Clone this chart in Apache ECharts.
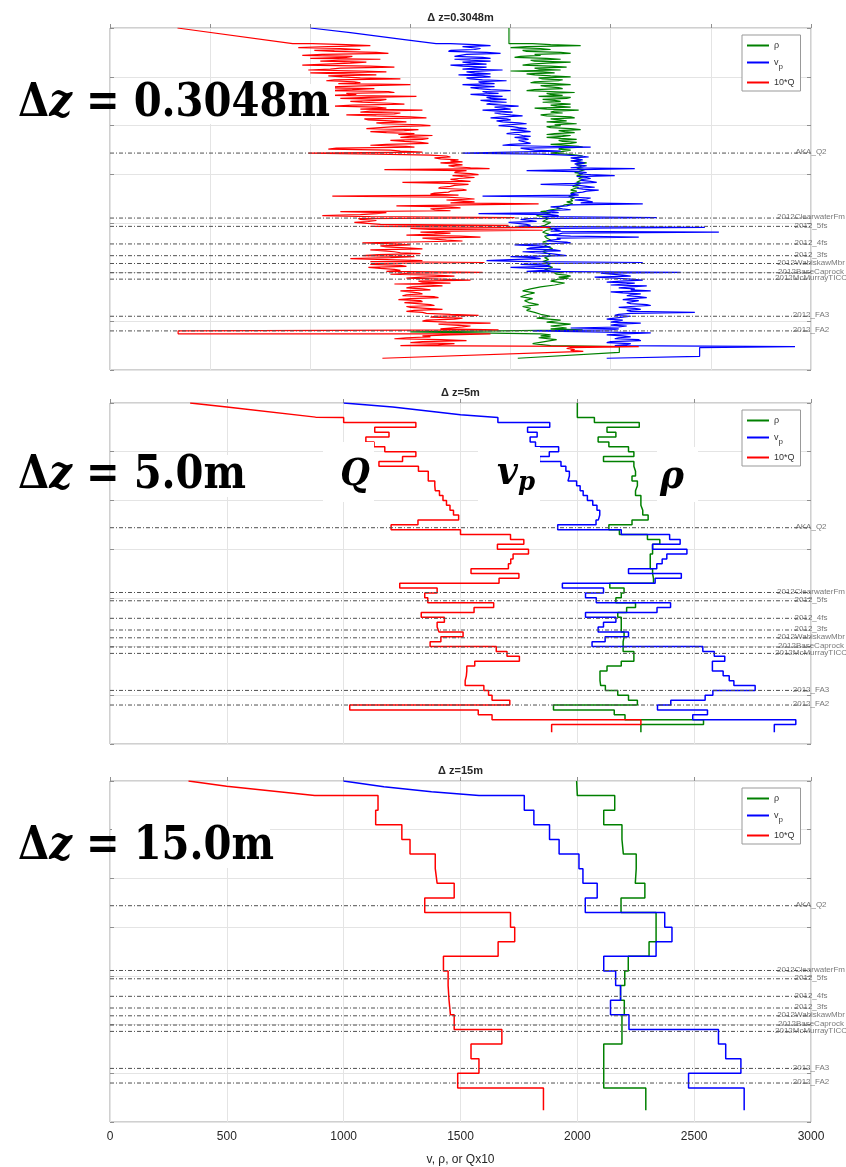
<!DOCTYPE html>
<html><head><meta charset="utf-8">
<script src="https://cdn.jsdelivr.net/npm/echarts@6/dist/echarts.min.js"></script>
<style>html,body{margin:0;padding:0;background:#fff}#c{width:846px;height:1167px}</style>
</head><body><div id="c"></div>
<script>
// ---------- data ----------
const xTickLabels = [0, 500, 1000, 1500, 2000, 2500, 3000];
const depthMin = 0, depthMax = 350, depthInterval = 50;
const panelTitles = ['\u0394 z=0.3048m', '\u0394 z=5m', '\u0394 z=15m'];
const panelXMax = [3500, 3000, 3000];
const formationNames = ['AKA_Q2','2012ClearwaterFm','2012_5fs','2012_4fs','2012_3fs','2012WabiskawMbr','2012BaseCaprock','2012McMurrayTICC','2012_FA3','2012_FA2'];
const formationDepths = [128, 194.5, 203, 221, 233, 241, 250.5, 257, 295, 310];
const logEnd = 338;

// panel 1 : dz = 0.3048 m (read at 1 m blocks from 16 m)
const p1Start = 16, p1Step = 1;
const rhoHead1 = [[1992, 0], [1992, 16]];
const vpHead1 = [[1000, 0], [1200, 4.8], [1460, 11.6], [1628, 16]];
const qHead1 = [[337, 0], [912, 16]];
const rho1 = [
 2110,2200,2350,2080,2000,2150,2200,2060,2080,2250,2300,2120,2150,2050,2020,2180,2250,2100,2120,2300,
 2180,2100,2060,2200,2280,2120,2140,2250,2000,2160,2220,2080,2120,2200,2300,2140,2160,2260,2240,2120,
 2100,2220,2300,2150,2180,2240,2260,2120,2080,2200,2320,2180,2200,2260,2140,2300,2280,2160,2220,2250,
 2160,2240,2300,2200,2230,2300,2120,2180,2340,2220,2200,2260,2260,2150,2180,2300,2320,2200,2240,2280,
 2180,2260,2330,2220,2250,2180,2200,2300,2350,2240,2270,2320,2220,2180,2300,2260,2180,2250,2330,2240,
 2260,2330,2300,2200,2200,2340,2360,2250,2240,2300,2300,2240,2200,2280,2330,2360,2360,2320,2320,2350,
 2350,2330,2380,2340,2330,2360,2360,2330,2340,2370,2370,2340,2320,2360,2350,2330,2380,2350,2340,2360,
 2360,2340,2330,2350,2350,2320,2310,2340,2340,2310,2300,2330,2330,2300,2310,2320,2290,2310,2320,2300,
 2300,2310,2280,2300,2310,2270,2260,2240,2230,2250,2200,2180,2150,2200,2180,2140,2130,2170,2170,2190,
 2190,2170,2160,2200,2200,2180,2170,2150,2150,2200,2210,2180,2180,2160,2160,2190,2200,2170,2170,2180,
 2180,2200,2200,2160,2160,2190,2190,2170,2170,2200,2210,2180,2180,2160,2160,2190,2190,2200,2200,2170,
 2170,2190,2190,2160,2160,2200,2200,2180,2180,2210,2210,2170,2170,2200,2260,2220,2230,2280,2300,2240,
 2290,2240,2240,2200,2200,2270,2270,2220,2220,2150,2150,2100,2100,2060,2060,2120,2120,2080,2080,2050,
 2050,2110,2110,2070,2070,2090,2090,2140,2140,2060,2060,2100,2100,2080,2080,2120,2120,2150,2150,2200,
 2200,2130,2130,2250,2250,2180,2180,2300,2300,2200,2200,2280,2200,2360,1940,1500,1500,2150,2200,2150,
 2200,2140,2140,2230,2230,2170,2170,2110,2110,2200,2543,2543,2543,2543,2543,2543];
const vp1 = [
 1700,1820,1900,1760,1760,1850,1820,1700,1690,1880,1950,1780,1780,1720,1860,1900,1720,1800,1900,1760,
 1800,1880,1700,1760,1880,1820,1760,1960,1960,1780,1820,1900,1740,1860,1900,1780,1800,1860,1980,1840,
 1850,1920,1760,1840,1920,1800,1840,1900,2000,1860,1880,1940,1800,1870,1960,1880,1900,1980,1850,1900,
 1980,1900,1880,1960,2040,1920,1920,2000,1860,1940,2010,1920,1950,2000,2060,1960,1900,1980,2000,1930,
 1960,2040,2080,1990,1940,2010,2040,2080,2000,2060,2100,2020,1980,2040,2060,2100,2020,2070,2090,2040,
 2040,2080,2100,2000,1960,2160,2400,2050,2080,2120,2250,2000,1760,2150,2280,2350,2390,2300,2330,2360,
 2300,2340,2370,2320,2330,2380,2360,2300,2620,2350,2080,2330,2380,2340,2400,2520,2330,2380,2400,2360,
 2350,2400,2430,2320,2150,2340,2380,2420,2330,2360,2440,2380,2360,2320,2300,2340,1860,2300,2400,2380,
 2320,2380,2410,2350,2660,2300,2280,2200,2200,2260,2300,2180,2180,2240,1840,2200,2240,2160,2730,2080,
 2050,2100,2130,1990,1990,2080,2100,2040,2970,2200,2220,2250,2200,3040,2260,2240,2180,2300,2640,2230,
 2250,2200,2180,2280,2300,2160,2020,2140,2200,2100,2080,2220,2250,2060,2120,2200,2200,2280,2000,2120,
 2150,2000,1880,2100,2660,2200,2050,2180,2200,2000,2120,2250,2250,2080,2850,2450,2450,2560,2600,2420,
 2520,2600,2660,2550,2480,2620,2580,2500,2680,2600,2540,2620,2600,2700,2500,2560,2650,2600,2580,2640,
 2680,2600,2560,2640,2640,2580,2600,2680,2700,2600,2540,2620,2650,2580,2600,2920,2600,2540,2520,2600,
 2600,2520,2480,2560,2560,2500,2650,2540,2500,2580,2540,2300,2540,2500,2110,2400,2700,2560,2480,2560,
 2600,2540,2520,2640,2650,2500,2480,2600,2580,2520,3420,2944,2944,2944,2944,2944,2944,2944,2944,2944,2944,2944];
const q1 = [
 1010,1180,1300,1090,940,1150,1250,1020,1120,1330,1390,1060,960,1210,1180,1000,1350,1140,1050,1280,
 1200,1080,960,1300,1420,1150,1100,990,1260,1380,1000,1170,1330,1090,1160,1250,1450,1120,1080,1220,
 1250,1140,1500,1300,1140,1020,1320,1210,1080,1390,1420,1180,1230,1100,1530,1290,1150,1380,1350,1200,
 1260,1400,1470,1210,1120,1330,1380,1250,1560,1300,1250,1450,1420,1180,1330,1500,1580,1270,1290,1400,
 1480,1330,1360,1550,1600,1420,1420,1280,1540,1470,1300,1380,1520,1440,1610,1500,1450,1590,1560,1400,
 1470,1550,1590,1380,1300,1480,1520,1130,1090,1400,1450,1560,990,1330,1600,1680,1700,1620,1650,1740,
 1700,1760,1650,1720,1760,1690,1720,1800,1895,1370,1780,1730,1720,1800,1840,1710,1760,1820,1740,1700,
 1740,1800,1460,1690,1790,1720,1700,1650,1640,1760,1780,1700,1690,1620,1600,1740,1110,1680,1760,1820,
 1680,1750,1820,1700,2140,1780,1430,1690,1750,1600,1620,1700,1150,1380,1330,1250,1060,1300,2020,1240,
 1250,1330,1290,1220,1220,1350,1990,1300,2200,1500,1600,2160,1700,1550,1700,1620,1480,1750,1850,1560,
 1560,1680,1760,1500,1260,1420,1500,1350,1380,1480,1560,1300,1300,1420,1450,1550,1340,1260,1520,1400,
 1200,1380,1560,1300,1870,1330,1300,1450,1480,1290,1350,1420,1450,1380,1860,1500,1400,1620,1720,1560,
 1480,1650,1800,1540,1560,1700,1420,1600,1660,1510,1480,1560,1600,1450,1450,1540,1560,1480,1460,1620,
 1640,1500,1440,1550,1560,1470,1470,1600,1620,1480,1500,1580,1660,1520,1480,1560,1580,1700,1840,1620,
 1600,1760,1720,1580,1560,1680,1900,1640,1640,1800,1760,1700,1650,1940,340,340,340,1900,1700,1560,
 1600,1480,1420,1650,1780,1560,1500,1720,1640,1450,2640,2300,2280,2320,2300,2363];
const rhoTail1 = [[2036, 338]];
const vpTail1 = [[2480, 338]];
const qTail1 = [[1360, 338]];

// panel 2 : dz = 5 m
const p2Start = 15, p2Step = 5;
const rhoHead2 = [[2000, 0], [2000, 15]];
const vpHead2 = [[1000, 0], [1210, 4], [1500, 12], [1660, 15]];
const qHead2 = [[343, 0], [500, 4], [880, 14.5]];
const rho2 = [2073,2265,2127,2165,2089,2135,2219,2242,2112,2242,
 2249,2249,2234,2257,2249,2249,2272,2272,2280,2280,
 2303,2234,2135,2180,2300,2353,2322,2322,2312,2312,
 2312,2322,2326,2326,2139,2200,2188,2165,2249,2211,
 2173,2188,2188,2188,2200,2196,2196,2196,2242,2242,
 2188,2127,2097,2097,2100,2120,2173,2219,2257,1898,
 2158,2204,2540,2272];
const vp2 = [1660,1882,1787,1828,1798,1821,1920,1880,1838,1930,
 1951,1966,1960,1997,2012,2025,2043,2066,2084,2096,
 2090,2080,1916,2188,2395,2440,2322,2469,2383,2363,
 2340,2219,2445,2333,1936,2112,2035,2081,2399,2341,
 2035,2165,2112,2089,2219,2119,2063,2537,2586,2631,
 2578,2578,2624,2650,2670,2761,2580,2547,2400,2343,
 2557,2494,2935,2843];
const q2 = [1000,1309,1133,1194,1095,1130,1176,1309,1252,1151,
 1320,1362,1362,1390,1392,1410,1425,1440,1455,1470,
 1492,1318,1203,1500,1714,1771,1658,1791,1725,1715,
 1705,1545,1750,1665,1240,1400,1347,1360,1642,1558,
 1332,1431,1400,1408,1511,1416,1370,1653,1699,1752,
 1561,1527,1525,1520,1520,1600,1620,1635,1711,1026,
 1576,1635,2272,1890];

// panel 3 : dz = 15 m
const p3Start = 15, p3Step = 15;
const rhoHead3 = [[1997, 0], [2000, 15]];
const vpHead3 = [[999, 0], [1172, 6], [1376, 11], [1579, 15]];
const qHead3 = [[336, 0], [499, 5.5], [876, 15]];
const rho3 = [2160,2113,2191,2197,2252,2248,2289,2187,2337,2337,2307,2218,2203,2185,2201,2191,2191,2113,2113,2113,2293];
const vp3 = [1773,1814,1881,1922,2007,2024,2085,2034,2374,2405,2337,2113,2164,2185,2142,2221,2604,2635,2700,2476,2714];
const q3 = [1147,1137,1249,1284,1392,1400,1473,1347,1714,1732,1661,1427,1447,1451,1457,1473,1677,1545,1579,1488,1855];

// ---------- build ----------
function stairs(head, start, step, values, endDepth, tail) {
  const pts = head.map(p => p.slice());
  values.forEach((v, i) => {
    const t = start + i * step;
    let b = t + step;
    if (i === values.length - 1 && endDepth != null) b = endDepth;
    pts.push([v, t], [v, b]);
  });
  (tail || []).forEach(p => pts.push(p.slice()));
  return pts;
}
const panels = [
  { rho: stairs(rhoHead1, p1Start, p1Step, rho1, null, rhoTail1),
    vp: stairs(vpHead1, p1Start, p1Step, vp1, null, vpTail1),
    q: stairs(qHead1, p1Start, p1Step, q1, null, qTail1), w: 1.2 },
  { rho: stairs(rhoHead2, p2Start, p2Step, rho2, logEnd),
    vp: stairs(vpHead2, p2Start, p2Step, vp2, logEnd),
    q: stairs(qHead2, p2Start, p2Step, q2, logEnd), w: 1.5 },
  { rho: stairs(rhoHead3, p3Start, p3Step, rho3, logEnd),
    vp: stairs(vpHead3, p3Start, p3Step, vp3, logEnd),
    q: stairs(qHead3, p3Start, p3Step, q3, logEnd), w: 1.5 }
];

const gridTops = [28, 403, 781];
const gridH = [342, 341, 341];
const FONT = 'Liberation Sans, Arial, sans-serif';
const GREEN = '#008000', BLUE = '#0000ff', RED = '#ff0000';

const grids = [], xAxes = [], yAxes = [], series = [], legends = [];
panels.forEach((p, i) => {
  grids.push({ left: 110, top: gridTops[i], width: 701, height: gridH[i], show: true,
    borderColor: '#a0a0a0', borderWidth: 1, backgroundColor: 'transparent' });
  xAxes.push({ gridIndex: i, type: 'value', min: 0, max: panelXMax[i], interval: 500,
    axisLine: { show: false },
    axisTick: { show: true, inside: true, length: 4, lineStyle: { color: '#909090' } },
    axisLabel: { show: i === 2, fontSize: 12, color: '#262626', fontFamily: FONT, margin: 9,
      formatter: v => (xTickLabels.indexOf(v) >= 0 ? String(v) : '') },
    splitLine: { show: true, lineStyle: { color: '#e4e4e4', width: 1 } },
    name: i === 2 ? 'v, \u03c1, or Qx10' : '', nameLocation: 'middle', nameGap: 32,
    nameTextStyle: { fontSize: 12, color: '#262626', fontFamily: FONT } });
  yAxes.push({ gridIndex: i, type: 'value', min: depthMin, max: depthMax, interval: depthInterval, inverse: true,
    axisLine: { show: false }, axisLabel: { show: false },
    axisTick: { show: true, inside: true, length: 4, lineStyle: { color: '#909090' } },
    splitLine: { show: true, lineStyle: { color: '#e4e4e4', width: 1 } } });
  yAxes.push({ gridIndex: i, type: 'value', position: 'right', min: depthMin, max: depthMax, interval: depthInterval, inverse: true,
    axisLine: { show: false }, axisLabel: { show: false },
    axisTick: { show: true, inside: true, length: 4, lineStyle: { color: '#909090' } },
    splitLine: { show: false } });
  const base = { type: 'line', xAxisIndex: i, yAxisIndex: 2 * i, symbol: 'none', showSymbol: false,
    animation: false, clip: true, z: 3 };
  series.push(Object.assign({}, base, { name: 'rho', data: p.rho, lineStyle: { color: GREEN, width: p.w }, itemStyle: { color: GREEN } }));
  series.push(Object.assign({}, base, { name: 'vp', data: p.vp, lineStyle: { color: BLUE, width: p.w }, itemStyle: { color: BLUE } }));
  series.push(Object.assign({}, base, { name: 'Q', data: p.q, lineStyle: { color: RED, width: p.w }, itemStyle: { color: RED } }));
  formationDepths.forEach((d, k) => {
    series.push({ type: 'line', name: 'f' + i + '_' + k, xAxisIndex: i, yAxisIndex: 2 * i, silent: true,
      symbol: 'none', animation: false, z: 4,
      data: [[0, d], [panelXMax[i], d]],
      lineStyle: { color: '#505050', width: 1, type: [4, 2, 1, 2] } });
  });
  series.push({ type: 'scatter', name: 'lab' + i, xAxisIndex: i, yAxisIndex: 2 * i, silent: true, animation: false,
    symbolSize: 0, clip: false, z: 5,
    data: formationDepths.map((d, k) => [panelXMax[i], d, formationNames[k]]),
    label: { show: true, position: 'inside', offset: [0, -1], formatter: o => o.value[2],
      fontSize: 8, color: '#555', fontFamily: FONT } });
  legends.push({ data: ['rho', 'vp', 'Q'], orient: 'vertical', left: 742, top: gridTops[i] + 7,
    backgroundColor: '#fff', borderColor: '#999', borderWidth: 1, borderRadius: 0,
    padding: [5, 6, 3, 5], itemGap: 6, itemWidth: 22, itemHeight: 2, icon: 'rect', selectedMode: false,
    formatter: n => (n === 'rho' ? '\u03c1' : n === 'vp' ? 'v{s|p}' : '10*Q'),
    textStyle: { fontSize: 9, color: '#333', fontFamily: FONT, lineHeight: 11,
      rich: { s: { fontSize: 8, color: '#333', padding: [9, 0, 0, 0], fontFamily: FONT } } } });
});

const serif = 'DejaVu Serif, serif';
function bigRich(size) {
  return {
    a: { fontFamily: serif, fontWeight: 'bold', fontSize: size, fill: '#000' },
    i: { fontFamily: serif, fontWeight: 'bold', fontStyle: 'italic', fontSize: size, fill: '#000' },
    s: { fontFamily: serif, fontWeight: 'bold', fontStyle: 'italic', fontSize: size * 0.68, fill: '#000', padding: [size * 0.45, 0, 0, 0] }
  };
}
const graphics = [];
panelTitles.forEach((t, i) => {
  graphics.push({ type: 'text', x: 460.5, y: gridTops[i] - 10, z: 20,
    style: { text: t, align: 'center', verticalAlign: 'middle', fontFamily: FONT, fontWeight: 'bold', fontSize: 11, fill: '#262626' } });
});
[[112, 84, 223, 40], [112, 455, 131, 42], [112, 826, 158, 42], [323, 442, 51, 60], [478, 447, 62, 55], [657, 447, 41, 55]]
  .forEach(r => graphics.push({ type: 'rect', z: 20, shape: { x: r[0], y: r[1], width: r[2], height: r[3] }, style: { fill: '#fff' } }));
const bigLabels = [['0.3048m', 104], ['5.0m', 476], ['15.0m', 847]];
bigLabels.forEach(b => {
  graphics.push({ type: 'text', x: 18, y: b[1], z: 21, scaleY: 1.12, scaleX: 0.98,
    style: { text: '{a|\u0394}{i|z}{a| = ' + b[0] + '}', rich: bigRich(41), verticalAlign: 'middle', align: 'left' } });
});
graphics.push({ type: 'text', x: 355, y: 475, z: 21, scaleY: 1.08, style: { text: '{i|Q}', rich: bigRich(34), align: 'center', verticalAlign: 'middle' } });
graphics.push({ type: 'text', x: 516, y: 474, z: 21, scaleY: 1.08, style: { text: '{i|v}{s|p}', rich: bigRich(36), align: 'center', verticalAlign: 'middle' } });
graphics.push({ type: 'text', x: 672, y: 478, z: 21, scaleY: 1.08, style: { text: '{i|\u03c1}', rich: bigRich(36), align: 'center', verticalAlign: 'middle' } });

const chart = echarts.init(document.getElementById('c'), null, { renderer: 'canvas' });
chart.setOption({
  backgroundColor: '#fff', animation: false,
  grid: grids, xAxis: xAxes, yAxis: yAxes, series: series, legend: legends, graphic: graphics
});
</script></body></html>
